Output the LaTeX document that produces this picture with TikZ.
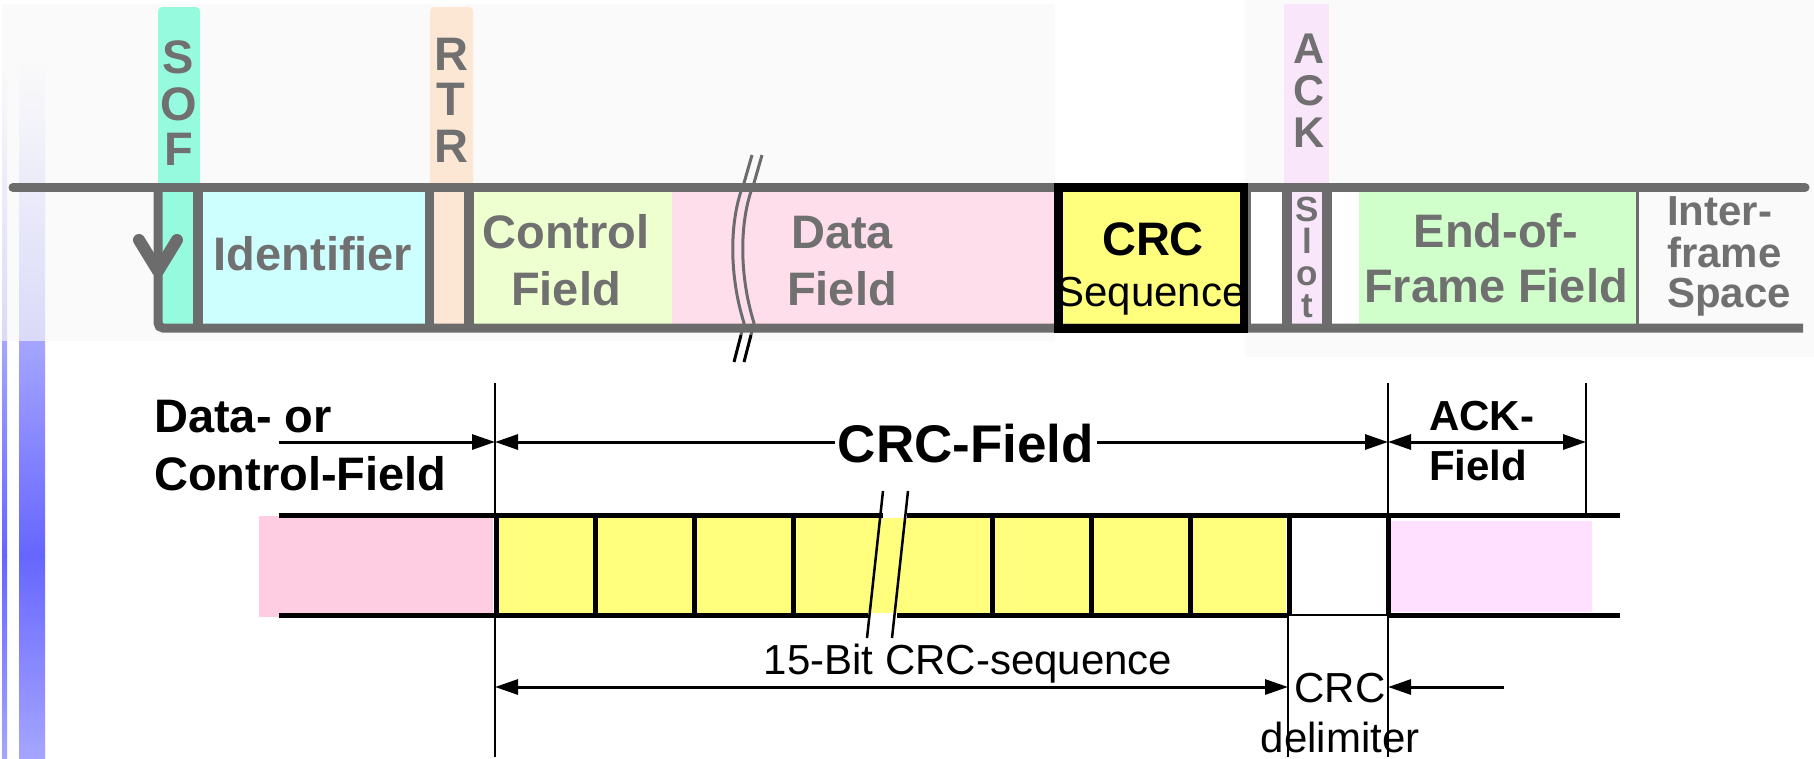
\documentclass[tikz,border=0pt]{standalone}
\usepackage{fontspec}
\setmainfont{Liberation Sans}
\usetikzlibrary{arrows.meta}
\definecolor{busgray}{RGB}{108,108,108}
\definecolor{txtgray}{RGB}{112,112,112}
\definecolor{paper}{RGB}{250,250,250}
\definecolor{sofcol}{RGB}{150,250,222}
\definecolor{idcol}{RGB}{205,255,255}
\definecolor{rtrcol}{RGB}{252,230,212}
\definecolor{ctrlcol}{RGB}{238,255,208}
\definecolor{datacol}{RGB}{255,222,236}
\definecolor{crccol}{RGB}{255,255,125}
\definecolor{ackcol}{RGB}{250,230,250}
\definecolor{eofcol}{RGB}{208,255,204}
\definecolor{datapink}{RGB}{255,205,225}
\definecolor{ackpink}{RGB}{255,224,255}
\definecolor{barblue}{RGB}{102,102,255}
\definecolor{barlight}{RGB}{165,165,255}
\definecolor{barfaint}{RGB}{218,218,248}
\begin{document}
\begin{tikzpicture}[x=1pt,y=-1pt,>={Triangle[length=23pt,width=15pt]},
  bus/.style={busgray,line width=9pt},
  rule/.style={busgray,line width=9.5pt},
  hdr/.style={text=txtgray,font=\bfseries\fontsize{47}{57}\selectfont,inner sep=0pt,anchor=base},
  hdrsmall/.style={hdr,font=\bfseries\fontsize{42}{50}\selectfont},
  bold/.style={font=\bfseries\fontsize{47}{57}\selectfont,inner sep=0pt,anchor=base},
  lbl/.style={font=\fontsize{42}{50}\selectfont,inner sep=0pt,anchor=base},
  dimline/.style={line width=3pt},
  thinrule/.style={line width=2.5pt},
  bitline/.style={line width=5pt}]
\useasboundingbox (0,0) rectangle (1814,758);
\fill[paper] (2,4) rectangle (1055,341);
\fill[paper] (1245,0) rectangle (1814,357);
\foreach \xa/\xb in {2/7,19/45}{
  \shade[top color=paper,bottom color=barfaint] (\xa,60) rectangle (\xb,341);
  \shade[top color=barlight,bottom color=barblue] (\xa,341) rectangle (\xb,555);
  \shade[top color=barblue,bottom color=barlight] (\xa,555) rectangle (\xb,758);
}

% frame fields
\fill[sofcol,rounded corners=4] (158,7) rectangle (200,330);
\fill[rtrcol,rounded corners=4] (430,7) rectangle (473,330);
\fill[ackcol] (1284,4) rectangle (1329,330);
\fill[idcol] (198,187) rectangle (429,328);
\fill[ctrlcol] (469,187) rectangle (672,328);
\fill[datacol] (672,187) rectangle (1058,328);
\fill[crccol] (1058,187) rectangle (1244,328);
\fill[white] (1244,187) rectangle (1287,328);
\fill[white] (1327,187) rectangle (1359,328);
\fill[eofcol] (1359,187) rectangle (1637,328);
\draw[bus,line cap=round] (13,187.5) -- (1805,187.5);
\draw[bus,rounded corners=5] (158,187.5) -- (158,328) -- (1803,328);
\foreach \x in {198,429.5,469,1287,1327} \draw[rule] (\x,187.5) -- (\x,328);
\draw[busgray,line width=3pt] (1249,187.5) -- (1249,328) (1637.5,187.5) -- (1637.5,328);
\draw[busgray,line width=12pt,line cap=round,line join=round] (139,240) -- (158,271) -- (177,240);
\foreach \dx in {0,10}{
  \draw[busgray,line width=3pt] (752+\dx,155) -- (744+\dx,183) .. controls (729+\dx,220) and (729+\dx,275) .. (744+\dx,323) -- (741+\dx,335);
  \draw[line width=3pt] (741+\dx,335) -- (734+\dx,362);
}

\foreach \ch/\yb [count=\i] in {S/73,O/120,F/165} \node[hdr] (sof\i) at (178.6,\yb) {\ch};
\foreach \ch/\yb [count=\i] in {R/70,T/115,R/162} \node[hdr] (rtr\i) at (451,\yb) {\ch};
\foreach \ch/\yb [count=\i] in {A/63,C/105,K/147} \node[hdr,font=\bfseries\fontsize{43}{50}\selectfont] (ack\i) at (1309,\yb) {\ch};
\node[hdr,font=\bfseries\fontsize{35}{32}\selectfont,align=center,anchor=north] (slot) at (1307,197) {S\\l\\o\\t};
\node[hdr] (ident) at (313,270.5) {Identifier};
\node[hdr] (ctrlA) at (566,248) {Control};
\node[hdr] (ctrlB) at (566,305) {Field};
\node[hdr] (dataA) at (842,248) {Data};
\node[hdr] (dataB) at (842,305) {Field};
\node[bold] (crcA) at (1153,255) {CRC};
\node[lbl] (crcB) at (1151,306) {Sequence};
\draw[line width=8.5pt] (1058.5,187.5) rectangle (1244,328.5);
\node[hdr] (eofA) at (1496,247) {End-of-};
\node[hdr] (eofB) at (1496,302) {Frame Field};
\node[hdrsmall,anchor=base west] (ifsA) at (1667,225) {Inter-};
\node[hdrsmall,anchor=base west] (ifsB) at (1667,267) {frame};
\node[hdrsmall,anchor=base west] (ifsC) at (1667,307) {Space};

% CRC field in detail
\fill[datapink] (259,516) rectangle (493,617);
\fill[crccol] (499,518) rectangle (1286,613);
\fill[ackpink] (1391,521) rectangle (1592,612);
\draw[bitline] (279,515.5) -- (883,515.5) (907,515.5) -- (1620,515.5);
\draw[bitline] (279,615) -- (868,615) (897,615) -- (1288,615) (1388,615) -- (1620,615);
\draw[thinrule] (1288,615) -- (1388,615);
\foreach \x in {496,595,694,793,992,1091,1190,1289,1388} \draw[bitline] (\x,515.5) -- (\x,615);
\draw[thinrule] (883,491) -- (867,638) (908,491) -- (892,638);
\draw[thinrule] (495,383) -- (495,757) (1388,383) -- (1388,757) (1586,383) -- (1586,514) (1288,615) -- (1288,757);

\node[bold,anchor=base west] (dcA) at (154,432) {Data- or};
\node[bold,anchor=base west] (dcB) at (154,490) {Control-Field};
\node[bold,font=\bfseries\fontsize{53}{60}\selectfont,inner xsep=3pt] (crcfld) at (966,462) {CRC-Field};
\node[bold,font=\bfseries\fontsize{42}{50}\selectfont,anchor=base west] (ackA) at (1429,430) {ACK-};
\node[bold,font=\bfseries\fontsize{42}{50}\selectfont,anchor=base west] (ackB) at (1429,480) {Field};
\node[lbl] (seq) at (968,674) {15-Bit CRC-sequence};
\node[lbl] (delA) at (1340,702) {CRC};
\node[lbl] (delB) at (1340,752) {delimiter};

\coordinate (datS) at (279,442);
\coordinate (fldL) at (495,442);
\coordinate (fldR) at (1388,442);
\coordinate (ackR) at (1586,442);
\coordinate (seqL) at (495,687);
\coordinate (seqR) at (1288,687);
\coordinate (delR) at (1388,687);
\coordinate (delS) at (1504,687);
\draw[dimline,->] (datS) -- (fldL);
\draw[dimline,<-] (fldL) -- (crcfld.west |- fldL);
\draw[dimline,->] (crcfld.east |- fldL) -- (fldR);
\draw[dimline,<->] (fldR) -- (ackR);
\draw[dimline,<->] (seqL) -- (seqR);
\draw[dimline,->] (delS) -- (delR);
\end{tikzpicture}
\end{document}
